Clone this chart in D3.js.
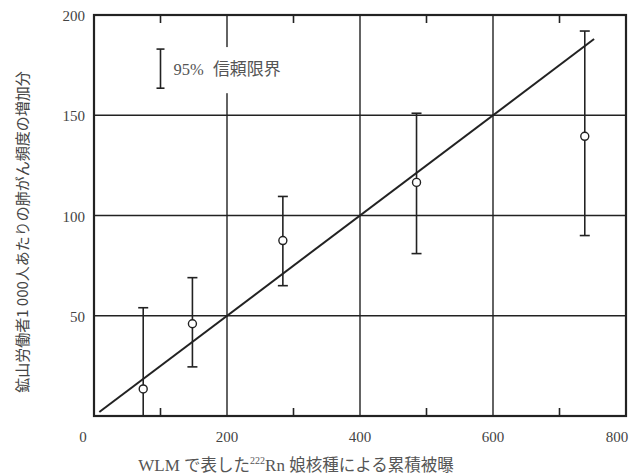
<!DOCTYPE html>
<html>
<head>
<meta charset="utf-8">
<script src="https://cdn.jsdelivr.net/npm/d3@7"></script>
<style>
  body { margin: 0; background: #fff; }
  svg text { fill: #2a2a2a; }
</style>
</head>
<body>
<div id="chart"></div>
<script>
// exposure (WLM) and excess lung cancer per 1000 miners
var exposure  = [74, 148, 284, 485, 738],
    excess    = [13.5, 46, 87.5, 116.5, 139.5],
    upper     = [54, 69, 109.5, 151, 192],
    lower     = [0, 24.5, 65, 81, 90];

// fitted line ends
var fitX = [8, 752],
    fitY = [2, 188];

var xTicks      = [0, 200, 400, 600, 800],
    xMinorTicks = [100, 300, 500, 700],
    yTicks      = [50, 100, 150, 200],
    yGrid       = [50, 100, 150];

var width  = 631,
    height = 476,
    margin = {top: 15, right: 5, bottom: 60, left: 94};

var ink = "#222";

var svg = d3.select("#chart")
  .append("svg")
    .attr("width", width)
    .attr("height", height);

var x = d3.scaleLinear().domain([0, 800]).range([margin.left, width - margin.right]);
var y = d3.scaleLinear().domain([0, 200]).range([height - margin.bottom, margin.top]);

// grid
svg.append("g")
  .selectAll("line")
  .data(xTicks.slice(1, -1))
  .enter().append("line")
    .attr("x1", function(d) { return x(d); })
    .attr("x2", function(d) { return x(d); })
    .attr("y1", y(0))
    .attr("y2", y(200))
    .style("stroke", ink)
    .style("stroke-width", 1.4);

svg.append("g")
  .selectAll("line")
  .data(yGrid)
  .enter().append("line")
    .attr("x1", x(0))
    .attr("x2", x(800))
    .attr("y1", function(d) { return y(d); })
    .attr("y2", function(d) { return y(d); })
    .style("stroke", ink)
    .style("stroke-width", 1.4);

// minor ticks, top and bottom, pointing inward
svg.append("g")
  .selectAll("line")
  .data(xMinorTicks)
  .enter().append("line")
    .attr("x1", function(d) { return x(d); })
    .attr("x2", function(d) { return x(d); })
    .attr("y1", y(0))
    .attr("y2", y(0) - 8)
    .style("stroke", ink)
    .style("stroke-width", 1.6);

svg.append("g")
  .selectAll("line")
  .data(xMinorTicks)
  .enter().append("line")
    .attr("x1", function(d) { return x(d); })
    .attr("x2", function(d) { return x(d); })
    .attr("y1", y(200))
    .attr("y2", y(200) + 8)
    .style("stroke", ink)
    .style("stroke-width", 1.6);

// legend (white box breaks the gridline behind it)
var lg = svg.append("g");
lg.append("rect")
  .attr("x", x(100) + 8)
  .attr("y", y(184))
  .attr("width", 126)
  .attr("height", y(161) - y(184))
  .style("fill", "#fff");
lg.append("line")
  .attr("x1", x(100)).attr("x2", x(100))
  .attr("y1", y(183)).attr("y2", y(163.5))
  .style("stroke", ink).style("stroke-width", 1.6);
[183, 163.5].forEach(function(v) {
  lg.append("line")
    .attr("x1", x(100) - 4).attr("x2", x(100) + 4)
    .attr("y1", y(v)).attr("y2", y(v))
    .style("stroke", ink).style("stroke-width", 1.6);
});
lg.append("text")
  .attr("x", x(100) + 13)
  .attr("y", y(173) + 6)
  .style("font-family", "'Liberation Serif', 'Noto Sans CJK JP', serif")
  .style("font-size", "16.5px")
  .style("fill", "#555")
  .text("95% ")
  .append("tspan")
    .style("font-family", "'Noto Sans CJK JP', sans-serif")
    .style("font-size", "17px")
    .attr("dx", 5)
    .text("信頼限界");

// fitted line
svg.append("line")
  .attr("x1", x(fitX[0])).attr("y1", y(fitY[0]))
  .attr("x2", x(fitX[1])).attr("y2", y(fitY[1]))
  .style("stroke", ink)
  .style("stroke-width", 2);

// error bars
var pts = exposure.map(function(d, i) {
  return {x: d, v: excess[i], hi: upper[i], lo: lower[i]};
});

var bars = svg.append("g").selectAll("g").data(pts).enter().append("g");
bars.append("line")
  .attr("x1", function(d) { return x(d.x); })
  .attr("x2", function(d) { return x(d.x); })
  .attr("y1", function(d) { return y(d.hi); })
  .attr("y2", function(d) { return y(d.lo); })
  .style("stroke", ink).style("stroke-width", 1.6);
bars.append("line")
  .attr("x1", function(d) { return x(d.x) - 5; })
  .attr("x2", function(d) { return x(d.x) + 5; })
  .attr("y1", function(d) { return y(d.hi); })
  .attr("y2", function(d) { return y(d.hi); })
  .style("stroke", ink).style("stroke-width", 1.6);
bars.filter(function(d) { return d.lo > 0; })
  .append("line")
  .attr("x1", function(d) { return x(d.x) - 5; })
  .attr("x2", function(d) { return x(d.x) + 5; })
  .attr("y1", function(d) { return y(d.lo); })
  .attr("y2", function(d) { return y(d.lo); })
  .style("stroke", ink).style("stroke-width", 1.6);
bars.append("circle")
  .attr("cx", function(d) { return x(d.x); })
  .attr("cy", function(d) { return y(d.v); })
  .attr("r", 4)
  .style("fill", "#fff")
  .style("stroke", ink)
  .style("stroke-width", 1.4);

// frame
svg.append("rect")
  .attr("x", x(0)).attr("y", y(200))
  .attr("width", x(800) - x(0))
  .attr("height", y(0) - y(200))
  .style("fill", "none")
  .style("stroke", ink)
  .style("stroke-width", 2.2);

// tick labels
var numFont = "'Liberation Serif', 'DejaVu Serif', serif";
svg.append("g")
  .selectAll("text")
  .data(yTicks)
  .enter().append("text")
    .attr("x", x(0) - 9)
    .attr("y", function(d) { return y(d) + 6; })
    .attr("text-anchor", "end")
    .style("font-family", numFont)
    .style("font-size", "15px")
    .style("fill", "#444")
    .text(function(d) { return d; });

svg.append("g")
  .selectAll("text")
  .data(xTicks)
  .enter().append("text")
    .attr("x", function(d) {
      if (d === 0) return x(d) - 11;
      if (d === 800) return x(d) - 9;
      return x(d);
    })
    .attr("y", y(0) + 26)
    .attr("text-anchor", "middle")
    .style("font-family", numFont)
    .style("font-size", "15px")
    .style("fill", "#444")
    .text(function(d) { return d; });

// axis titles
var xt = svg.append("text")
  .attr("x", 296)
  .attr("y", 471)
  .attr("text-anchor", "middle")
  .style("font-family", "'Noto Sans CJK JP', sans-serif")
  .style("font-size", "16.5px")
  .style("fill", "#555");
xt.append("tspan").style("font-family", numFont).style("font-size", "17px").text("WLM ");
xt.append("tspan").text("で表した");
xt.append("tspan").style("font-family", numFont).style("font-size", "10px").attr("dy", -7).text("222");
xt.append("tspan").style("font-family", numFont).style("font-size", "17px").attr("dy", 7).text("Rn ");
xt.append("tspan").text("娘核種による累積被曝");

svg.append("text")
  .attr("transform", "translate(28," + 232 + ") rotate(-90)")
  .attr("text-anchor", "middle")
  .style("font-family", "'Noto Sans CJK JP', sans-serif")
  .style("font-size", "15px")
  .style("fill", "#444")
  .text("鉱山労働者1 000人あたりの肺がん頻度の増加分");
</script>
</body>
</html>
